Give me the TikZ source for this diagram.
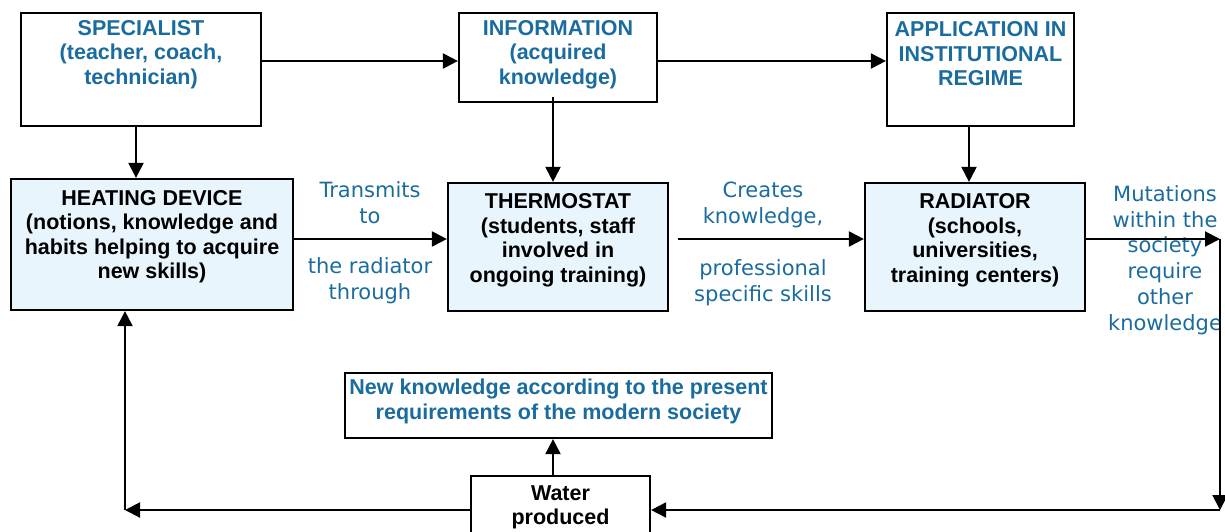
\documentclass[tikz,border=0pt]{standalone}
\usepackage{fontspec}
\setmainfont{Liberation Sans}
\newfontfamily\verd{DejaVu Sans}
\usetikzlibrary{arrows.meta}
\definecolor{tblue}{HTML}{1B6C9E}
\definecolor{lblue}{HTML}{E8F5FD}
\tikzset{
  box/.style={draw=black, line width=2.2pt, rectangle, inner sep=0pt},
  fbox/.style={box, fill=lblue},
  btxt/.style={align=center, inner sep=0pt, font=\bfseries\fontsize{21.5}{24.5}\selectfont},
  ltxt/.style={align=center, inner sep=0pt, text=tblue, font=\verd\fontsize{21}{25.8}\selectfont},
  arr/.style={line width=2pt, -{Triangle[length=15pt,width=15pt]}}
}
\begin{document}
\begin{tikzpicture}[x=1pt,y=-1pt]
\useasboundingbox (0,0) rectangle (1225,531);
% boxes
\node[box, minimum width=240pt, minimum height=113pt] (spec) at (141,69.5) {};
\node[box, minimum width=198pt, minimum height=89pt] (info) at (558,57.5) {};
\node[box, minimum width=187pt, minimum height=113pt] (appl) at (980.5,69.5) {};
\node[fbox, minimum width=282pt, minimum height=131pt] (heat) at (152,244.5) {};
\node[fbox, minimum width=220pt, minimum height=128pt] (thermo) at (558,247) {};
\node[fbox, minimum width=220pt, minimum height=128pt] (rad) at (975,247) {};
\node[box, minimum width=427pt, minimum height=65pt] (newk) at (558.5,405.5) {};
\node[box, minimum width=179pt, minimum height=70pt] (water) at (560.5,511) {};
% texts
\node[btxt, text=tblue] (spect) at (141,54.5) {SPECIALIST\\(teacher, coach,\\technician)};
\node[btxt, text=tblue] (infot) at (558,54.5) {INFORMATION\\(acquired\\knowledge)};
\node[btxt, text=tblue] (applt) at (980.5,54) {APPLICATION IN\\INSTITUTIONAL\\REGIME};
\node[btxt] (heatt) at (152,236.5) {HEATING DEVICE\\(notions, knowledge and\\habits helping to acquire\\new skills)};
\node[btxt] (thermot) at (558,240.5) {THERMOSTAT\\(students, staff\\involved in\\ongoing training)};
\node[btxt] (radt) at (975,240.5) {RADIATOR\\(schools,\\universities,\\training centers)};
\node[btxt, text=tblue] (newkt) at (558.5,401.5) {New knowledge according to the present\\requirements of the modern society};
\node[btxt, anchor=north] (watert) at (560.5,485) {Water\\produced};
% labels
\node[ltxt] (l1) at (370,203) {Transmits\\to};
\node[ltxt] (l2) at (370,281) {the radiator\\through};
\node[ltxt] (l3) at (763,205) {Creates\\knowledge,};
\node[ltxt] (l4) at (763,283) {professional\\specific skills};
\node[ltxt] (l5) at (1165,260) {Mutations\\within the\\society\\require\\other\\knowledge};
% helper coordinates
\coordinate (row1) at (0,61);
\coordinate (row2) at (0,239);
\coordinate (row3) at (0,510);
\coordinate (sx) at (136,0);
\coordinate (ax) at (969,0);
\coordinate (wx) at (553,0);
\coordinate (ts) at (678,239);
\coordinate (c1) at (1220,239);
\coordinate (c2) at (1220,510);
\coordinate (c3) at (125,510);
\coordinate (ix) at (553,97);
% connectors
\draw[arr] (spec.east |- row1) -- (info.west |- row1);
\draw[arr] (info.east |- row1) -- (appl.west |- row1);
\draw[arr] (sx |- spec.south) -- (sx |- heat.north);
\draw[arr] (ix) -- (ix |- thermo.north);
\draw[arr] (ax |- appl.south) -- (ax |- rad.north);
\draw[arr] (heat.east |- row2) -- (thermo.west |- row2);
\draw[arr] (ts) -- (rad.west |- row2);
\draw[arr] (rad.east |- row2) -- (c1);
\draw[arr] (c1) -- (c2);
\draw[arr] (c2) -- (water.east |- row3);
\draw[arr] (water.west |- row3) -- (c3);
\draw[arr] (c3) -- (c3 |- heat.south);
\draw[arr] (wx |- water.north) -- (wx |- newk.south);
\end{tikzpicture}
\end{document}
